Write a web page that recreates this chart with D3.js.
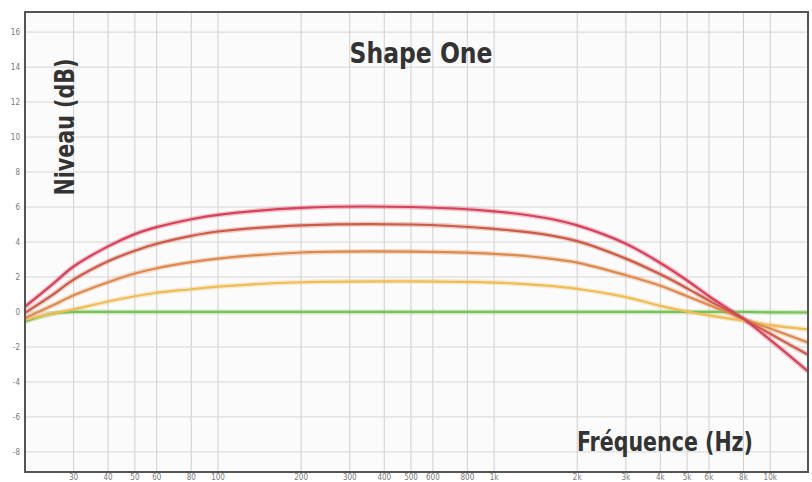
<!DOCTYPE html>
<html>
<head>
<meta charset="utf-8">
<script src="https://cdn.jsdelivr.net/npm/d3@7"></script>
<style>
  body { margin: 0; background: #fff; }
  svg text { font-family: "DejaVu Sans Condensed", "DejaVu Sans", sans-serif; font-stretch: condensed; }
</style>
</head>
<body>
<div id="chart"></div>
<script>
const freqs = [20, 25, 30, 40, 50, 60, 80, 100, 200, 500, 1000, 1500, 2000, 3000, 4000, 5000, 6000, 8000, 10000, 13700];

// levels in dB, one array per curve
const redLevels    = [0.3, 1.55, 2.6, 3.75, 4.45, 4.85, 5.3, 5.55, 5.95, 6.0, 5.75, 5.4, 4.95, 3.9, 2.8, 1.8, 0.9, -0.4, -1.6, -3.4];
const darkLevels   = [-0.05, 0.95, 1.85, 2.9, 3.5, 3.9, 4.35, 4.6, 4.95, 5.0, 4.75, 4.45, 4.05, 3.05, 2.15, 1.35, 0.65, -0.4, -1.25, -2.45];
const orangeLevels = [-0.35, 0.35, 0.95, 1.7, 2.2, 2.5, 2.85, 3.05, 3.4, 3.45, 3.32, 3.1, 2.82, 2.1, 1.5, 0.9, 0.4, -0.4, -0.95, -1.75];
const yellowLevels = [-0.45, -0.1, 0.15, 0.6, 0.9, 1.1, 1.3, 1.45, 1.7, 1.75, 1.68, 1.52, 1.32, 0.85, 0.35, 0.02, -0.2, -0.5, -0.75, -1.0];
const greenLevels  = [-0.55, -0.1, 0, 0, 0, 0, 0, 0, 0, 0, 0, 0, 0, 0, 0, 0, 0, 0, -0.02, -0.03];

const xTicks = [30, 40, 50, 60, 80, 100, 200, 300, 400, 500, 600, 800, 1000, 2000, 3000, 4000, 5000, 6000, 8000, 10000];
const xTickLabels = ["30", "40", "50", "60", "80", "100", "200", "300", "400", "500", "600", "800", "1k", "2k", "3k", "4k", "5k", "6k", "8k", "10k"];
const yTicks = [-8, -6, -4, -2, 0, 2, 4, 6, 8, 10, 12, 14, 16];

const series = [
    {name: "green", values: greenLevels, color: "#78c25a"},
    {name: "yellow", values: yellowLevels, color: "#efbd58"},
    {name: "orange", values: orangeLevels, color: "#de8a4e"},
    {name: "dark", values: darkLevels, color: "#cc5c48"},
    {name: "red", values: redLevels, color: "#d6425c"}
];

const width = 812, height = 482;
const plot = {left: 25, right: 808, top: 12, bottom: 472};

const svg = d3.select("#chart").append("svg")
    .attr("width", width)
    .attr("height", height);

const x = d3.scaleLog()
    .domain([20, 13700])
    .range([plot.left, plot.right]);

const y = d3.scaleLinear()
    .domain([-9.15, 17.15])
    .range([plot.bottom, plot.top]);

svg.append("rect")
    .attr("x", plot.left).attr("y", plot.top)
    .attr("width", plot.right - plot.left)
    .attr("height", plot.bottom - plot.top)
    .attr("fill", "#fbfbfb");

// grid
svg.append("g")
    .selectAll("line")
    .data(xTicks)
    .join("line")
    .attr("x1", d => x(d)).attr("x2", d => x(d))
    .attr("y1", plot.top).attr("y2", plot.bottom)
    .attr("stroke", "#cfcfcf")
    .attr("stroke-width", 1);

svg.append("g")
    .selectAll("line")
    .data(yTicks)
    .join("line")
    .attr("x1", plot.left).attr("x2", plot.right)
    .attr("y1", d => y(d)).attr("y2", d => y(d))
    .attr("stroke", "#d6d6d6")
    .attr("stroke-width", 1);

// tick labels
svg.append("g")
    .selectAll("text")
    .data(yTicks)
    .join("text")
    .attr("x", 20)
    .attr("y", d => y(d))
    .attr("dy", "0.35em")
    .attr("text-anchor", "end")
    .attr("font-size", 8)
    .attr("fill", "#777")
    .text(d => d);

svg.append("g")
    .selectAll("text")
    .data(xTicks)
    .join("text")
    .attr("x", d => x(d))
    .attr("y", 480)
    .attr("text-anchor", "middle")
    .attr("font-size", 8)
    .attr("fill", "#777")
    .text((d, i) => xTickLabels[i]);

// curves
const line = d3.line()
    .x((d, i) => x(freqs[i]))
    .y(d => y(d))
    .curve(d3.curveCatmullRom.alpha(0.5));

const curves = svg.append("g");

curves.selectAll(".glow")
    .data(series)
    .join("path")
    .attr("class", "glow")
    .attr("d", d => line(d.values))
    .attr("fill", "none")
    .attr("stroke", d => d.color)
    .attr("stroke-opacity", 0.3)
    .attr("stroke-width", 5);

curves.selectAll(".curve")
    .data(series)
    .join("path")
    .attr("class", "curve")
    .attr("d", d => line(d.values))
    .attr("fill", "none")
    .attr("stroke", d => d.color)
    .attr("stroke-width", 2.2);

// frame
svg.append("rect")
    .attr("x", plot.left).attr("y", plot.top)
    .attr("width", plot.right - plot.left)
    .attr("height", plot.bottom - plot.top)
    .attr("fill", "none")
    .attr("stroke", "#555")
    .attr("stroke-width", 2);

// titles
svg.append("text")
    .attr("x", 421)
    .attr("y", 63)
    .attr("text-anchor", "middle")
    .attr("font-size", 29)
    .attr("font-weight", "bold")
    .attr("fill", "#333")
    .attr("textLength", 143)
    .attr("lengthAdjust", "spacingAndGlyphs")
    .text("Shape One");

svg.append("text")
    .attr("transform", "translate(74,127) rotate(-90)")
    .attr("text-anchor", "middle")
    .attr("font-size", 27)
    .attr("font-weight", "bold")
    .attr("fill", "#333")
    .attr("textLength", 137)
    .attr("lengthAdjust", "spacingAndGlyphs")
    .text("Niveau (dB)");

svg.append("text")
    .attr("x", 665)
    .attr("y", 451)
    .attr("text-anchor", "middle")
    .attr("font-size", 27)
    .attr("font-weight", "bold")
    .attr("fill", "#333")
    .attr("textLength", 176)
    .attr("lengthAdjust", "spacingAndGlyphs")
    .text("Fréquence (Hz)");
</script>
</body>
</html>
